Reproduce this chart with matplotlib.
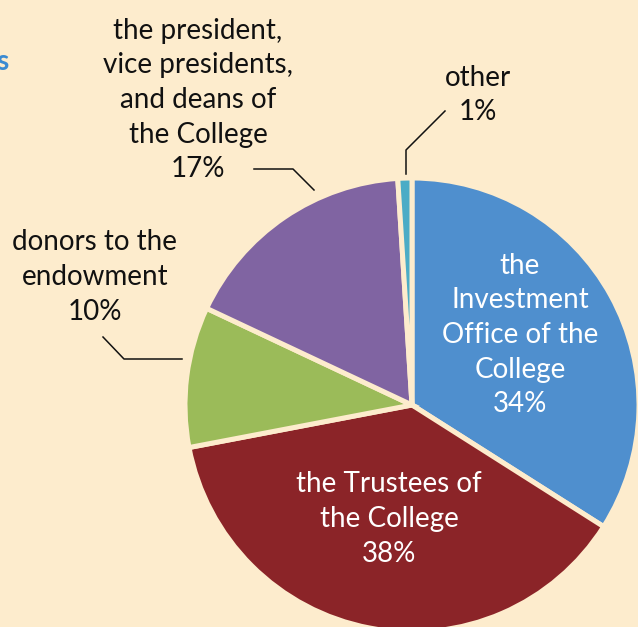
import matplotlib.pyplot as plt

W, H = 638, 627
bg = '#FDECCD'

labels = ['the\nInvestment\nOffice of the\nCollege', 'the Trustees of\nthe College',
          'donors to the\nendowment', 'the president,\nvice presidents,\nand deans of\nthe College', 'other']
shares = [34, 38, 10, 17, 1]
colors = ['#4F8FCE', '#8B2428', '#9BBB59', '#8064A2', '#4BACC6']

plt.rcParams['font.family'] = ['Lato', 'DejaVu Sans']

fig = plt.figure(figsize=(W / 100, H / 100), dpi=100, facecolor=bg)
ax = fig.add_axes([0, 0, 1, 1])
ax.set_facecolor(bg)

# pie in pixel coords (y measured from the top, flipped here)
cx, cy, r = 412, H - 405, 227
ax.pie(shares, colors=colors, startangle=90, counterclock=False,
       center=(cx, cy), radius=r, frame=True,
       wedgeprops=dict(edgecolor=bg, linewidth=3.6))
ax.set_xlim(0, W)
ax.set_ylim(0, H)
ax.set_aspect('equal')
ax.axis('off')

fs = 20
ls = 1.41
# labels inside the pie (white)
ax.text(520, H - 335, labels[0] + '\n%d%%' % shares[0], color='white', fontsize=fs,
        ha='center', va='center', linespacing=ls)
ax.text(389, H - 519, labels[1] + '\n%d%%' % shares[1], color='white', fontsize=fs,
        ha='center', va='center', linespacing=ls)
# labels outside
ax.text(95, H - 277, labels[2] + '\n%d%%' % shares[2], color='#111111', fontsize=fs,
        ha='center', va='center', linespacing=ls)
ax.text(198, H - 100, labels[3] + '\n%d%%' % shares[3], color='#111111', fontsize=fs,
        ha='center', va='center', linespacing=ls)
ax.text(478, H - 95, labels[4] + '\n%d%%' % shares[4], color='#111111', fontsize=fs,
        ha='center', va='center', linespacing=ls)

# leader lines
ax.plot([254, 293, 314], [H - 169, H - 169, H - 190], color='#111111', lw=1.1)
ax.plot([445, 406, 406], [H - 111, H - 150, H - 174], color='#111111', lw=1.1)
ax.plot([103, 124, 182], [H - 337, H - 359, H - 359], color='#111111', lw=1.1)

# cut-off heading at the left edge
ax.text(9, H - 62, 's', color='#3A8AD2', fontsize=20, fontweight='bold',
        ha='right', va='center')

fig.savefig('out.png', dpi=100, facecolor=bg)
